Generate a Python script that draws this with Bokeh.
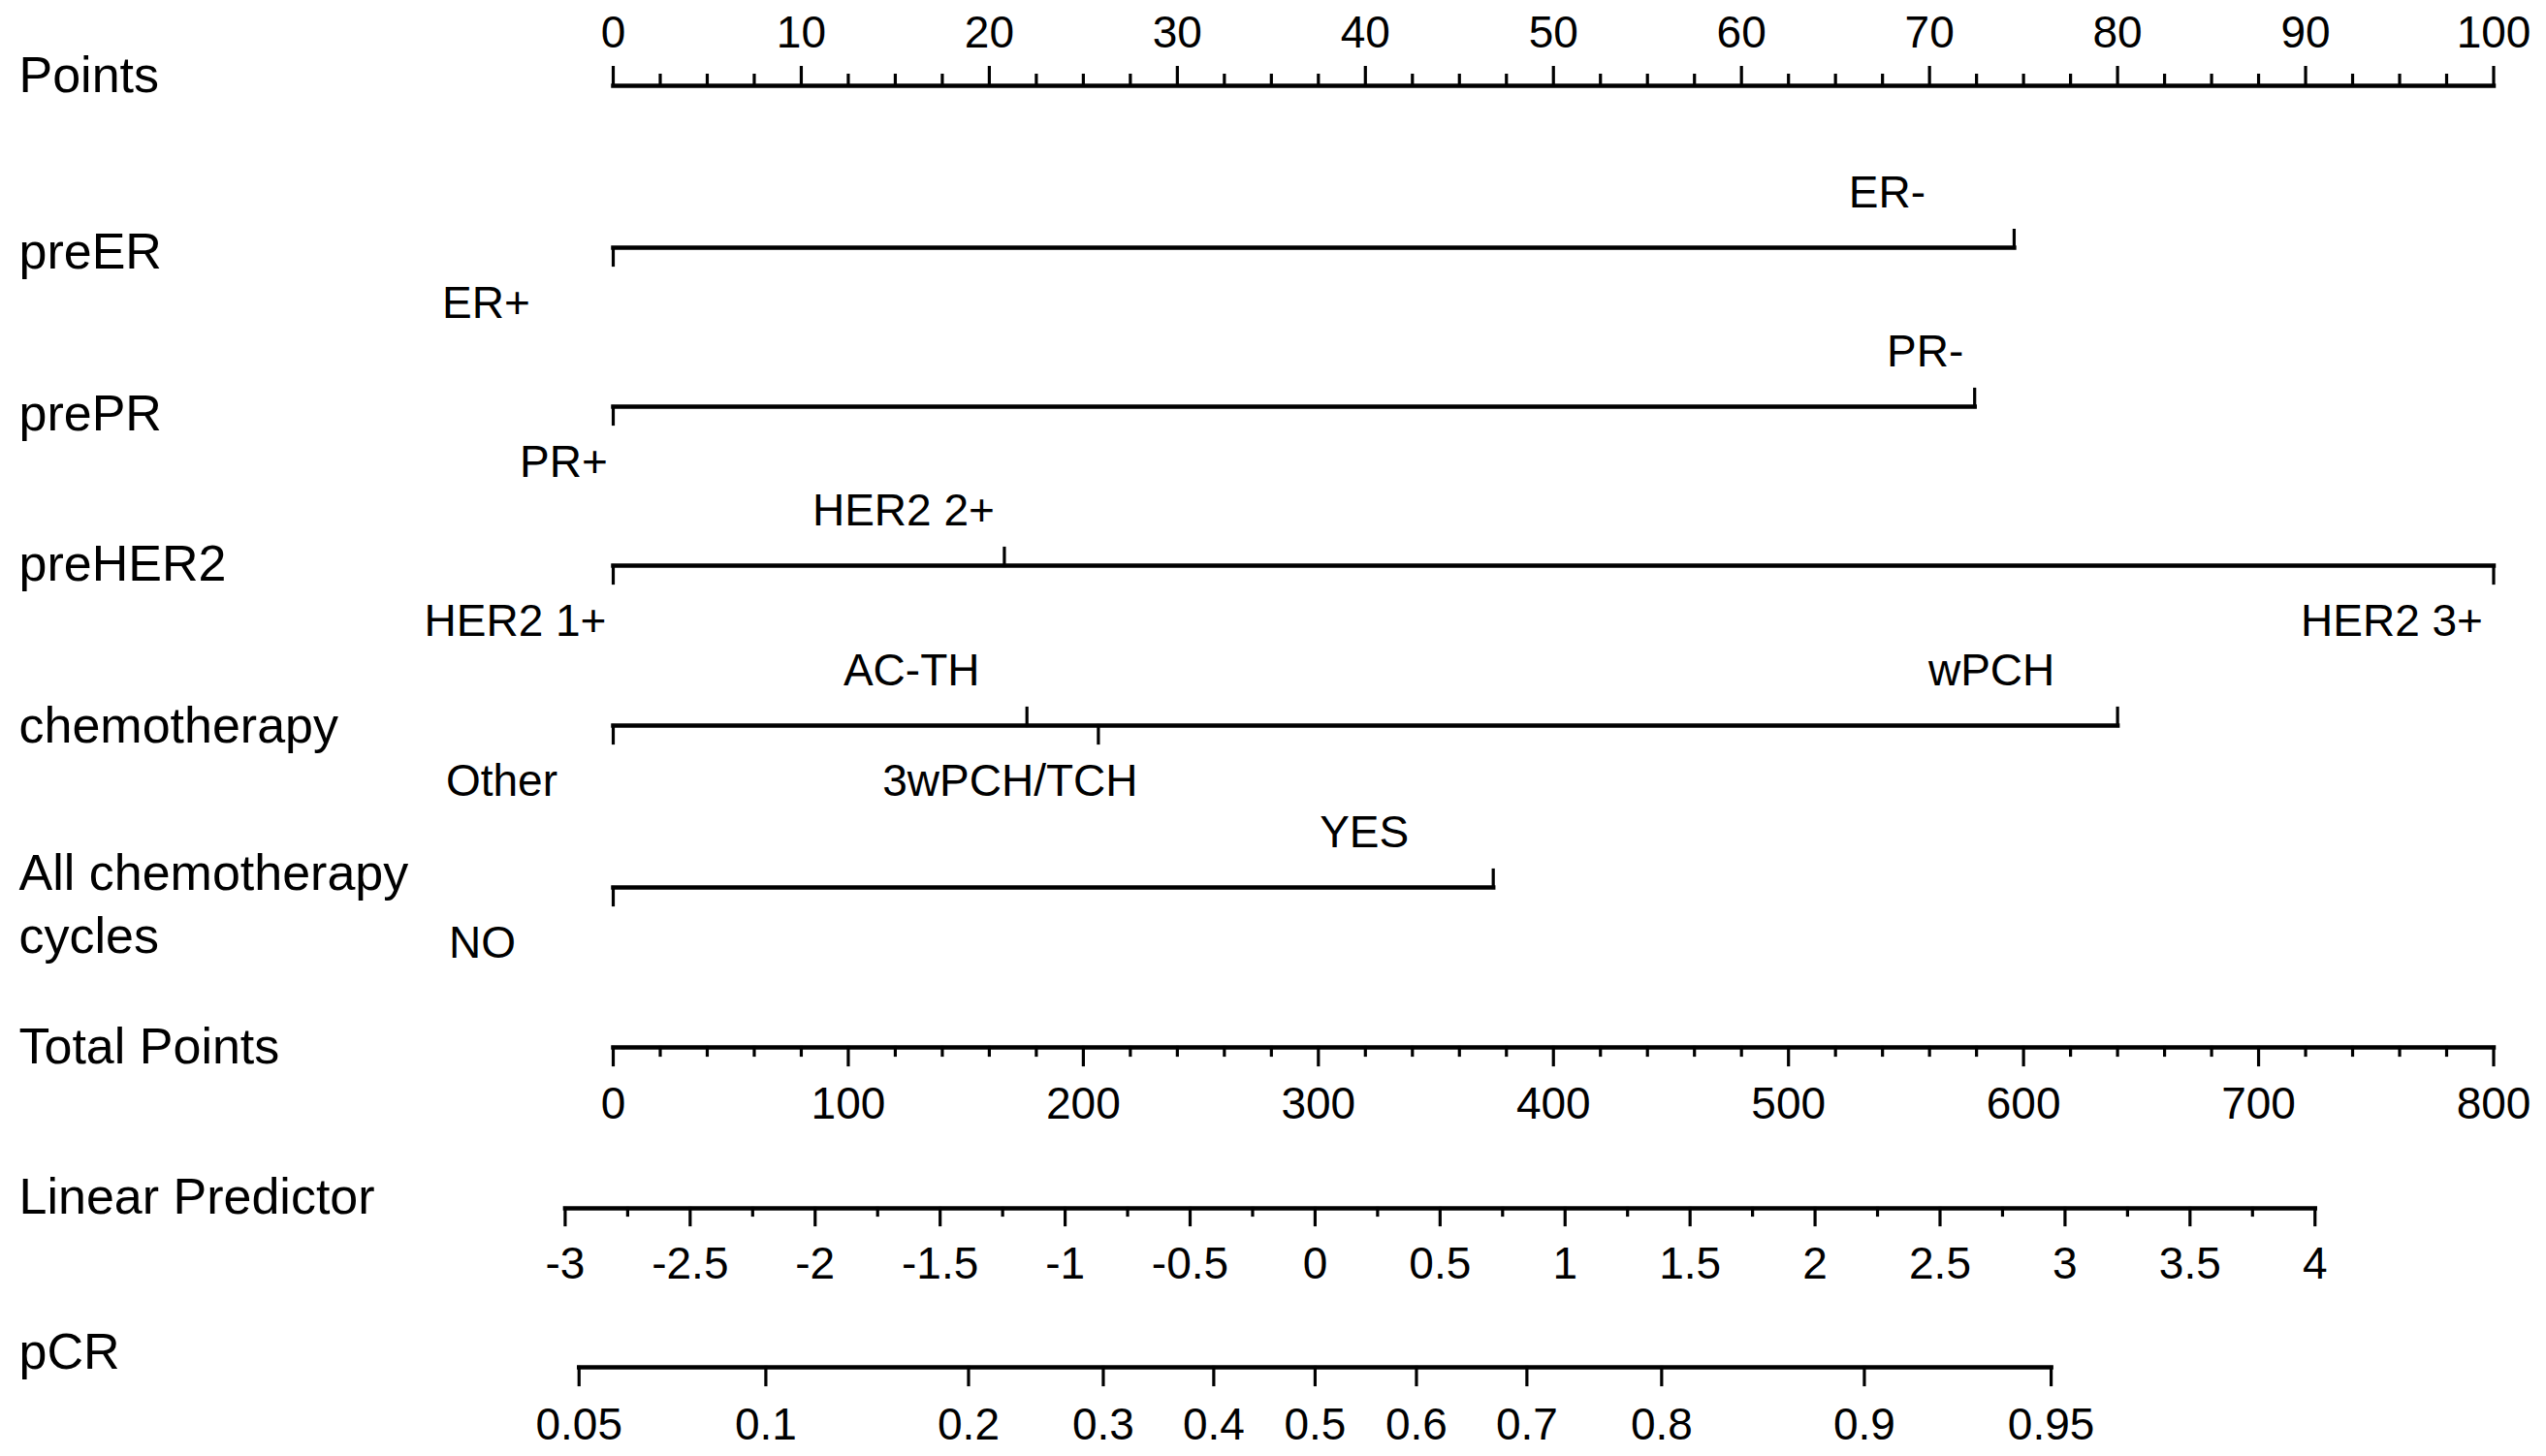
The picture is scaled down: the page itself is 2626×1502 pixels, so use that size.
import math
from bokeh.plotting import figure
from bokeh.models import Range1d, ColumnDataSource
from bokeh.embed import file_html
from bokeh.resources import INLINE
from bokeh.core.properties import value

# ---------------- data ----------------
points_ticks = [0, 10, 20, 30, 40, 50, 60, 70, 80, 90, 100]
points_minor = [i * 2.5 for i in range(41)]

er_levels = ["ER+", "ER-"]
er_points = [0.0, 74.5]
pr_levels = ["PR+", "PR-"]
pr_points = [0.0, 72.4]
her2_levels = ["HER2 1+", "HER2 2+", "HER2 3+"]
her2_points = [0.0, 20.8, 100.0]
chemo_levels = ["Other", "AC-TH", "3wPCH/TCH", "wPCH"]
chemo_points = [0.0, 22.0, 25.8, 80.0]
cycles_levels = ["NO", "YES"]
cycles_points = [0.0, 46.8]

total_ticks = [0, 100, 200, 300, 400, 500, 600, 700, 800]
total_minor = list(range(0, 801, 20))

lp_ticks = [-3, -2.5, -2, -1.5, -1, -0.5, 0, 0.5, 1, 1.5, 2, 2.5, 3, 3.5, 4]
lp_labels = ["-3", "-2.5", "-2", "-1.5", "-1", "-0.5", "0", "0.5", "1", "1.5",
             "2", "2.5", "3", "3.5", "4"]
lp_minor = [-3 + 0.25 * i for i in range(29)]

pcr_ticks = [0.05, 0.1, 0.2, 0.3, 0.4, 0.5, 0.6, 0.7, 0.8, 0.9, 0.95]
pcr_labels = ["0.05", "0.1", "0.2", "0.3", "0.4", "0.5", "0.6", "0.7", "0.8", "0.9", "0.95"]

TOTAL_PER_POINT = 8.0      # total points 0-800 span the 0-100 point scale
LP_ZERO_TOTAL = 298.6      # total points where linear predictor = 0
TOTAL_PER_LP = 106.35      # total points per unit of linear predictor

# ---------------- layout (pixels of the 2626x1502 page) ----------------
W, H = 2620, 1496
PX0, PX_PER_PT = 632.0, 19.395
TITLE_X = 19
TEXT_SHIFT = 19            # renderer places alphabetic text this much lower
FONT = "Liberation Sans"
TITLE_SIZE = "52px"
LABEL_SIZE = "46px"

points_axis_y, points_major, points_minor_len, points_label_y = 88, 19, 11, 51
factor_line_y = [255, 419, 583, 748, 915]
factor_tick = 18
above_gap, below_gap = -39, 75
factor_sides = [["below", "above"], ["below", "above"], ["below", "above", "below"],
                ["below", "above", "below", "above"], ["below", "above"]]
factor_label_dx = [[-131, -131], [-51, -51], [-101, -104, -105],
                   [-115, -119, -91, -130], [-135, -133]]
total_axis_y, total_major, total_minor_len, total_label_y = 1080, 18, 8, 1156
lp_axis_y, lp_major, lp_minor_len, lp_label_y = 1246, 17, 7, 1321
pcr_axis_y, pcr_major, pcr_label_y = 1410, 18, 1487
title_rows = [("Points", 95), ("preER", 277), ("prePR", 444), ("preHER2", 599),
              ("chemotherapy", 766), ("All chemotherapy", 918), ("cycles", 983),
              ("Total Points", 1097), ("Linear Predictor", 1252), ("pCR", 1412)]

AXIS_W, TICK_W = 4.5, 3.2


def tp_to_pts(tp):
    return tp / TOTAL_PER_POINT


def lp_to_pts(lp):
    return tp_to_pts(LP_ZERO_TOTAL + lp * TOTAL_PER_LP)


def prob_to_pts(p):
    return lp_to_pts(math.log(p / (1 - p)))


p = figure(width=W, height=H, output_backend="svg", toolbar_location=None,
           x_range=Range1d(-PX0 / PX_PER_PT, (W - PX0) / PX_PER_PT),
           y_range=Range1d(H, 0),
           x_axis_type=None, y_axis_type=None, min_border=0,
           outline_line_color=None, background_fill_color="white",
           border_fill_color="white")
p.grid.visible = False

segs = {"x0": [], "y0": [], "x1": [], "y1": [], "w": []}


def seg(x0, y0, x1, y1, w):
    segs["x0"].append(x0); segs["y0"].append(y0)
    segs["x1"].append(x1); segs["y1"].append(y1); segs["w"].append(w)


texts = {"x": [], "y": [], "t": [], "dx": [], "size": [], "align": []}


def txt(x, y, t, dx=0, size=LABEL_SIZE, align="center"):
    texts["x"].append(x); texts["y"].append(y - TEXT_SHIFT); texts["t"].append(t)
    texts["dx"].append(dx); texts["size"].append(size); texts["align"].append(align)


# Points axis (ticks upward, labels above)
seg(0, points_axis_y, 100, points_axis_y, AXIS_W)
for v in points_minor:
    ln = points_major if v in points_ticks else points_minor_len
    seg(v, points_axis_y, v, points_axis_y - ln, TICK_W)
for v in points_ticks:
    txt(v, points_label_y, str(v))

# factor rows
factor_levels = [er_levels, pr_levels, her2_levels, chemo_levels, cycles_levels]
factor_points = [er_points, pr_points, her2_points, chemo_points, cycles_points]
for levels, pts, ly, sides, dxs in zip(factor_levels, factor_points, factor_line_y,
                                       factor_sides, factor_label_dx):
    seg(min(pts), ly, max(pts), ly, AXIS_W)
    for lev, v, side, dx in zip(levels, pts, sides, dxs):
        if side == "above":
            seg(v, ly, v, ly - factor_tick, TICK_W)
            txt(v, ly + above_gap, lev, dx)
        else:
            seg(v, ly, v, ly + factor_tick, TICK_W)
            txt(v, ly + below_gap, lev, dx)

# Total points axis
seg(tp_to_pts(0), total_axis_y, tp_to_pts(800), total_axis_y, AXIS_W)
for v in total_minor:
    ln = total_major if v in total_ticks else total_minor_len
    seg(tp_to_pts(v), total_axis_y, tp_to_pts(v), total_axis_y + ln, TICK_W)
for v in total_ticks:
    txt(tp_to_pts(v), total_label_y, str(v))

# Linear predictor axis
seg(lp_to_pts(lp_ticks[0]), lp_axis_y, lp_to_pts(lp_ticks[-1]), lp_axis_y, AXIS_W)
for v in lp_minor:
    ln = lp_major if any(abs(v - t) < 1e-9 for t in lp_ticks) else lp_minor_len
    seg(lp_to_pts(v), lp_axis_y, lp_to_pts(v), lp_axis_y + ln, TICK_W)
for v, lab in zip(lp_ticks, lp_labels):
    txt(lp_to_pts(v), lp_label_y, lab)

# pCR axis
seg(prob_to_pts(pcr_ticks[0]), pcr_axis_y, prob_to_pts(pcr_ticks[-1]), pcr_axis_y, AXIS_W)
for v, lab in zip(pcr_ticks, pcr_labels):
    seg(prob_to_pts(v), pcr_axis_y, prob_to_pts(v), pcr_axis_y + pcr_major, TICK_W)
    txt(prob_to_pts(v), pcr_label_y, lab)

# row titles
x_left = p.x_range.start
for t, y in title_rows:
    txt(x_left, y, t, TITLE_X, TITLE_SIZE, "left")

p.segment(x0="x0", y0="y0", x1="x1", y1="y1", line_width="w", line_color="black",
          line_cap="square", source=ColumnDataSource(segs))
p.text(x="x", y="y", text="t", x_offset="dx", text_font_size="size", text_align="align",
       text_baseline="alphabetic", text_font=value(FONT), text_color="black",
       source=ColumnDataSource(texts))

open("out.html", "w").write(file_html(p, INLINE))
